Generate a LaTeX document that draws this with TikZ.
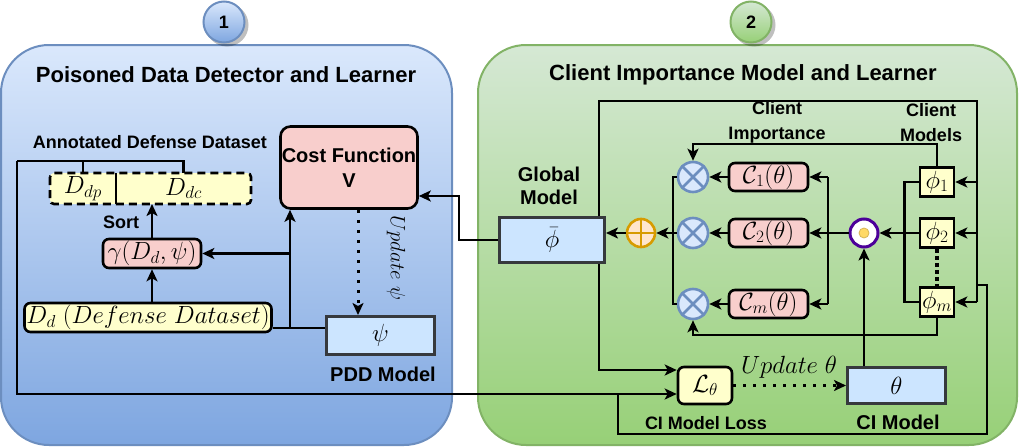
\documentclass[tikz,border=0pt]{standalone}
\usepackage{fontspec}
\newfontfamily\lsans{Liberation Sans}
\usetikzlibrary{arrows.meta,calc}
\definecolor{bluetop}{HTML}{DAE8FC}
\definecolor{bluebot}{HTML}{7EA6E0}
\definecolor{bluestroke}{HTML}{6C8EBF}
\definecolor{greentop}{HTML}{D5E8D4}
\definecolor{greenbot}{HTML}{97D077}
\definecolor{greenstroke}{HTML}{82B366}
\definecolor{pinkc}{HTML}{F8CECC}
\definecolor{yelc}{HTML}{FFFFCC}
\definecolor{ltblue}{HTML}{CCE5FF}
\definecolor{darkc}{HTML}{36393D}
\definecolor{xfill}{HTML}{DAE8FC}
\definecolor{xstroke}{HTML}{6C8EBF}
\definecolor{orfill}{HTML}{FFE6CC}
\definecolor{orstroke}{HTML}{D79B00}
\definecolor{purp}{HTML}{4C0099}
\definecolor{dotfill}{HTML}{FFD966}
\definecolor{dotstroke}{HTML}{D6B656}
\begin{document}
\begin{tikzpicture}[x=1pt,y=-1pt,
  conn/.style={line width=2.6pt},
  arr/.style={conn,-{Stealth[length=12pt,width=11pt,inset=3pt]}},
  dots/.style={line width=3pt, dash pattern=on 3pt off 7pt},
  mfont/.style={font=\fontsize{23}{26}\selectfont},
  lab/.style={font=\lsans\bfseries\fontsize{18}{25}\selectfont, align=center, inner sep=0pt},
  labb/.style={font=\lsans\bfseries\fontsize{20}{23}\selectfont, align=center, inner sep=0pt},
  ttl/.style={font=\lsans\bfseries\fontsize{22}{26}\selectfont, inner sep=0pt},
  pinkbox/.style={draw=black, line width=2.6pt, fill=pinkc, rounded corners=6pt, inner sep=0pt, mfont},
  yelbox/.style={draw=black, line width=2.6pt, fill=yelc, rounded corners=6pt, inner sep=0pt, mfont},
  phibox/.style={draw=black, line width=2.6pt, fill=yelc, inner sep=0pt, minimum width=34pt, minimum height=29pt, mfont},
  modbox/.style={draw=darkc, line width=3pt, fill=ltblue, inner sep=0pt, mfont},
  xcirc/.style={circle, draw=xstroke, fill=xfill, line width=2.6pt, minimum size=30pt, inner sep=0pt},
  numcirc/.style={circle, line width=2pt, minimum size=41pt, inner sep=0pt, font=\lsans\bfseries\fontsize{18}{20}\selectfont}
]
\useasboundingbox (0,0) rectangle (1020,447);

% panels
\path[draw=bluestroke, line width=2pt, rounded corners=48pt, top color=bluetop, bottom color=bluebot] (1,45) rectangle (452,445);
\path[draw=greenstroke, line width=2pt, rounded corners=48pt, top color=greentop, bottom color=greenbot] (478,45) rectangle (1017,445);

% number circles
\fill[black, opacity=0.25] (227,25) circle (21.5);
\node[numcirc, draw=bluestroke, top color=bluetop, bottom color=bluebot] (n1) at (224,22) {1};
\fill[black, opacity=0.25] (754,25) circle (21.5);
\node[numcirc, draw=greenstroke, top color=greentop, bottom color=greenbot] (n2) at (751,22) {2};

% titles and labels
\node[ttl] (ttl1) at (226,75) {Poisoned Data Detector and Learner};
\node[ttl] (ttl2) at (743,75) {Client Importance Model and Learner};
\node[lab] (annot) at (150,142) {Annotated Defense Dataset};
\node[lab] (sortlab) at (121,222) {Sort};
\node[labb] (pddlab) at (383,374) {PDD Model};
\node[labb] (globlab) at (549,185.5) {Global\\Model};
\node[lab] (cilab) at (777,122.5) {Client\\Importance};
\node[lab] (cmlab) at (931,122.5) {Client\\Models};
\node[lab] (closslab) at (706,423) {CI Model Loss};
\node[labb] (cimlab) at (898,422) {CI Model};
\node[mfont, inner sep=0pt] (updt) at (789,367) {$Update\ \theta$};
\node[font=\fontsize{21}{24}\selectfont, inner sep=0pt, rotate=-90] (updp) at (396,258) {$Update\ \psi$};

% panel 1 nodes
\path[fill=yelc, rounded corners=4pt] (50,173) rectangle (251,204);
\node[inner sep=0pt, outer sep=0pt, minimum width=66pt, minimum height=31pt, mfont] (ddp) at (83,188.5) {$D_{dp}$};
\node[inner sep=0pt, outer sep=0pt, minimum width=135pt, minimum height=31pt, mfont] (ddc) at (183.5,188.5) {$D_{dc}$};
\draw[line width=2.6pt, dash pattern=on 8pt off 5pt, rounded corners=4pt] (ddp.north west) rectangle (ddc.south east);
\draw[line width=2.6pt] (ddp.north east) -- (ddp.south east);

\node[pinkbox, minimum width=137pt, minimum height=82pt, rounded corners=10pt, align=center, font=\lsans\bfseries\fontsize{20}{25}\selectfont] (cost) at (349,167.5) {Cost Function\\V};
\node[pinkbox, minimum width=98pt, minimum height=29pt] (gamma) at (152,253.5) {$\gamma(D_d,\psi)$};
\node[yelbox, minimum width=247pt, minimum height=29pt] (Dd) at (148,317.5) {$D_d\ (Defense\ Dataset)$};
\node[modbox, minimum width=108pt, minimum height=38pt] (psi) at (380.5,335.5) {$\psi$};

% panel 2 nodes
\node[modbox, minimum width=105pt, minimum height=45pt] (glob) at (552,240) {$\bar{\phi}$};
\node[circle, draw=orstroke, fill=orfill, line width=2.6pt, minimum size=28pt, inner sep=0pt] (oplus) at (641,233) {};
\node[xcirc] (o1) at (693,177) {};
\node[xcirc] (o2) at (693,233) {};
\node[xcirc] (om) at (693,304) {};
\node[pinkbox, minimum width=79pt, minimum height=28pt] (C1) at (768.5,177) {$\mathcal{C}_1(\theta)$};
\node[pinkbox, minimum width=79pt, minimum height=28pt] (C2) at (768.5,233) {$\mathcal{C}_2(\theta)$};
\node[pinkbox, minimum width=79pt, minimum height=28pt] (Cm) at (768.5,304) {$\mathcal{C}_m(\theta)$};
\node[circle, draw=purp, fill=white, line width=3pt, minimum size=28pt, inner sep=0pt] (odot) at (864,233) {};
\node[phibox] (phi1) at (937,182) {$\phi_1$};
\node[phibox] (phi2) at (937,233) {$\phi_2$};
\node[phibox] (phim) at (937,302) {$\phi_m$};
\node[yelbox, minimum width=54pt, minimum height=37pt] (Lt) at (705,385.5) {$\mathcal{L}_\theta$};
\node[modbox, minimum width=98pt, minimum height=36pt] (theta) at (896.5,385.5) {$\theta$};

% symbols inside circles
\draw[xstroke, line width=2.6pt] (o1.north west) -- (o1.south east) (o1.north east) -- (o1.south west);
\draw[xstroke, line width=2.6pt] (o2.north west) -- (o2.south east) (o2.north east) -- (o2.south west);
\draw[xstroke, line width=2.6pt] (om.north west) -- (om.south east) (om.north east) -- (om.south west);
\draw[orstroke, line width=2.6pt] (oplus.north) -- (oplus.south) (oplus.west) -- (oplus.east);
\fill[dotfill, draw=dotstroke, line width=0.8pt] (odot.center) circle (5);

% panel 1 connectors
\coordinate (tl) at (17,161);
\coordinate (bl) at (17,394);
\draw[conn] (ddp.north) |- (tl);
\draw[conn] (ddc.north) |- (tl);
\draw[arr] (tl) -- (bl) -- (bl -| Lt.west);
\draw[arr] (gamma.north) -- (gamma.north |- ddp.south);
\draw[arr] (gamma.south |- Dd.north) -- (gamma.south);
\coordinate (j1) at (290,328);
\draw[conn] (Dd.east |- j1) -- (psi.west |- j1);
\draw[arr] (j1) -- (j1 |- cost.south);
\draw[arr] (j1 |- gamma.east) -- (gamma.east);
\coordinate (dx) at (358,0);
\draw[arr, dots] (cost.south -| dx) -- (psi.north -| dx);
\coordinate (g1) at (459,240);
\coordinate (g2) at (459,196);
\draw[arr] (glob.west) -- (g1) -- (g2) -- (g2 -| cost.east);

% panel 2 connectors
\coordinate (t1) at (599,101);
\coordinate (t2) at (977,101);
\draw[conn] (t1 |- glob.north) -- (t1) -- (t2) -- (t2 |- phim.east);
\draw[arr] (phi1.east -| t2) -- (phi1.east);
\draw[arr] (phi2.east -| t2) -- (phi2.east);
\draw[arr] (phim.east -| t2) -- (phim.east);
\coordinate (l1) at (977,285);
\coordinate (l2) at (987,285);
\coordinate (l3) at (987,434);
\coordinate (l4) at (618,434);
\coordinate (l5) at (618,394);
\draw[conn] (l1) -- (l2) -- (l3) -- (l4) -- (l5);
\coordinate (gb) at (599,370);
\draw[arr] (t1 |- glob.south) -- (gb) -- (gb -| Lt.west);
\draw[arr, dots] (Lt.east) -- (theta.west);
\draw[arr] (theta.north -| odot.center) -- (odot.south);
\draw[arr] (phi2.west) -- (odot.east);
\draw[conn] (phi1.west) -- ++(-14,0) |- (phim.west);
\coordinate (c144) at (0,144);
\coordinate (c335) at (0,335);
\draw[arr] (phi1.north) -- (phi1.north |- c144) -- (o1.north |- c144) -- (o1.north);
\draw[arr] (phim.south) -- (phim.south |- c335) -- (om.south |- c335) -- (om.south);
\draw[line width=3.5pt, dash pattern=on 4pt off 3pt] (phi2.south) -- (phim.north);
\draw[arr] (odot.west) -- (C2.east);
\coordinate (c828) at (828,0);
\draw[conn] (C1.east -| c828) -- (Cm.east -| c828);
\draw[arr] (C1.east -| c828) -- (C1.east);
\draw[arr] (Cm.east -| c828) -- (Cm.east);
\draw[arr] (C1.west) -- (o1.east);
\draw[arr] (C2.west) -- (o2.east);
\draw[arr] (Cm.west) -- (om.east);
\coordinate (c673) at (673,0);
\draw[conn] (o1.west) -- (o1.west -| c673) -- (om.west -| c673) -- (om.west);
\draw[arr] (o2.west) -- (oplus.east);
\draw[arr] (oplus.west) -- (glob.east |- oplus.west);
\end{tikzpicture}
\end{document}
